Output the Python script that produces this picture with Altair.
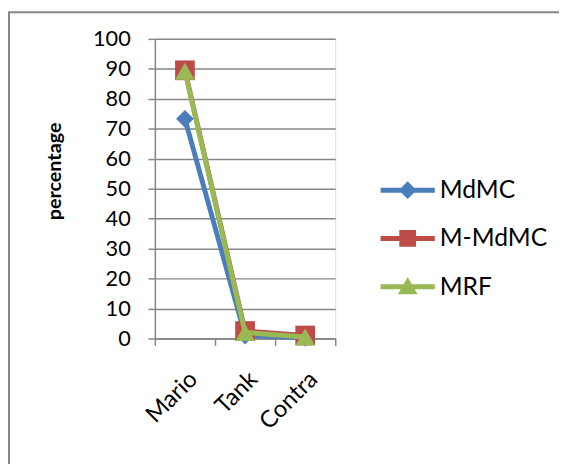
import altair as alt
import pandas as pd

categories = ["Mario", "Tank", "Contra"]
series_names = ["MdMC", "M-MdMC", "MRF"]
mdmc = [73.3, 1.0, 0.3]
m_mdmc = [89.5, 2.5, 1.0]
mrf = [89.2, 2.0, 0.5]
colors = ["#4A7EBB", "#BE4B48", "#98B954"]
shapes = ["diamond", "square", "triangle-up"]
y_ticks = list(range(0, 101, 10))

legend_paths = [
    "M-2.75,-0.25L2.75,-0.25L2.75,0.25L-2.75,0.25Z M0,-0.9L0.9,0L0,0.9L-0.9,0Z",
    "M-2.75,-0.25L2.75,-0.25L2.75,0.25L-2.75,0.25Z M-0.85,-0.85L0.85,-0.85L0.85,0.85L-0.85,0.85Z",
    "M-2.75,-0.25L2.75,-0.25L2.75,0.25L-2.75,0.25Z M0,-1L1,0.75L-1,0.75Z",
]

rows = []
for name, vals in zip(series_names, [mdmc, m_mdmc, mrf]):
    for c, v in zip(categories, vals):
        rows.append({"game": c, "series": name, "value": v})
df = pd.DataFrame(rows)

FONT = "Lato"
GRAY = "#868686"

x_enc = alt.X(
    "game:N",
    sort=categories,
    scale=alt.Scale(type="band", paddingInner=0, paddingOuter=0),
    axis=alt.Axis(
        title=None,
        labelAngle=-45,
        labelFontSize=24,
        labelFont=FONT,
        labelColor="black",
        labelPadding=22,
        tickBand="extent",
        tickSize=7,
        tickColor=GRAY,
        tickWidth=1.5,
        domainColor=GRAY,
        domainWidth=1.5,
        grid=False,
    ),
)
y_enc = alt.Y(
    "value:Q",
    scale=alt.Scale(domain=[0, 100], nice=False),
    axis=alt.Axis(
        values=y_ticks,
        title="percentage",
        titleFont=FONT,
        titleFontSize=20,
        titleFontWeight="bold",
        titleColor="black",
        titleX=-96,
        titleY=134,
        titleAngle=-90,
        titleBaseline="alphabetic",
        labelFontSize=22,
        labelFont=FONT,
        labelColor="black",
        labelPadding=18,
        tickSize=7,
        tickColor=GRAY,
        tickWidth=1.5,
        domainColor=GRAY,
        domainWidth=1.5,
        gridColor=GRAY,
        gridWidth=1.5,
    ),
)

border = alt.Chart(pd.DataFrame({"a": [0]})).mark_rect(
    fillOpacity=0, stroke=GRAY, strokeWidth=2
).encode(
    x=alt.value(-148), x2=alt.value(700), y=alt.value(-27), y2=alt.value(700)
)

layers = [border]
for name, col, shp in zip(series_names, colors, shapes):
    sub = alt.Chart(df).transform_filter(alt.datum.series == name)
    layers.append(
        sub.mark_line(color=col, strokeWidth=5).encode(x=x_enc, y=y_enc)
    )
    size = 324 if shp == "diamond" else 400
    layers.append(
        sub.mark_point(shape=shp, filled=True, opacity=1, size=size, color=col).encode(
            x=x_enc, y=y_enc
        )
    )

legend_cfg = dict(
    title=None,
    orient="none",
    legendX=244,
    legendY=141,
    labelFont=FONT,
    labelFontSize=25,
    labelColor="black",
    labelOffset=20,
    rowPadding=23,
    symbolSize=400,
    symbolStrokeWidth=0,
    labelLimit=300,
)

legend_layer = alt.Chart(df).transform_filter("false").mark_point(
    filled=True, opacity=1, size=400
).encode(
    x=x_enc,
    y=y_enc,
    color=alt.Color(
        "series:N",
        scale=alt.Scale(domain=series_names, range=colors),
        legend=alt.Legend(**legend_cfg),
    ),
    shape=alt.Shape(
        "series:N",
        scale=alt.Scale(domain=series_names, range=legend_paths),
        legend=alt.Legend(**legend_cfg),
    ),
)
layers.append(legend_layer)

chart = alt.layer(*layers).properties(
    width=183,
    height=304,
    autosize=alt.AutoSizeParams(type="none"),
    padding={"left": 149, "top": 28, "right": 227, "bottom": 124},
).configure_view(stroke=None).configure(background="white")

chart.save("out.html", embed_options={"renderer": "svg", "actions": False})
